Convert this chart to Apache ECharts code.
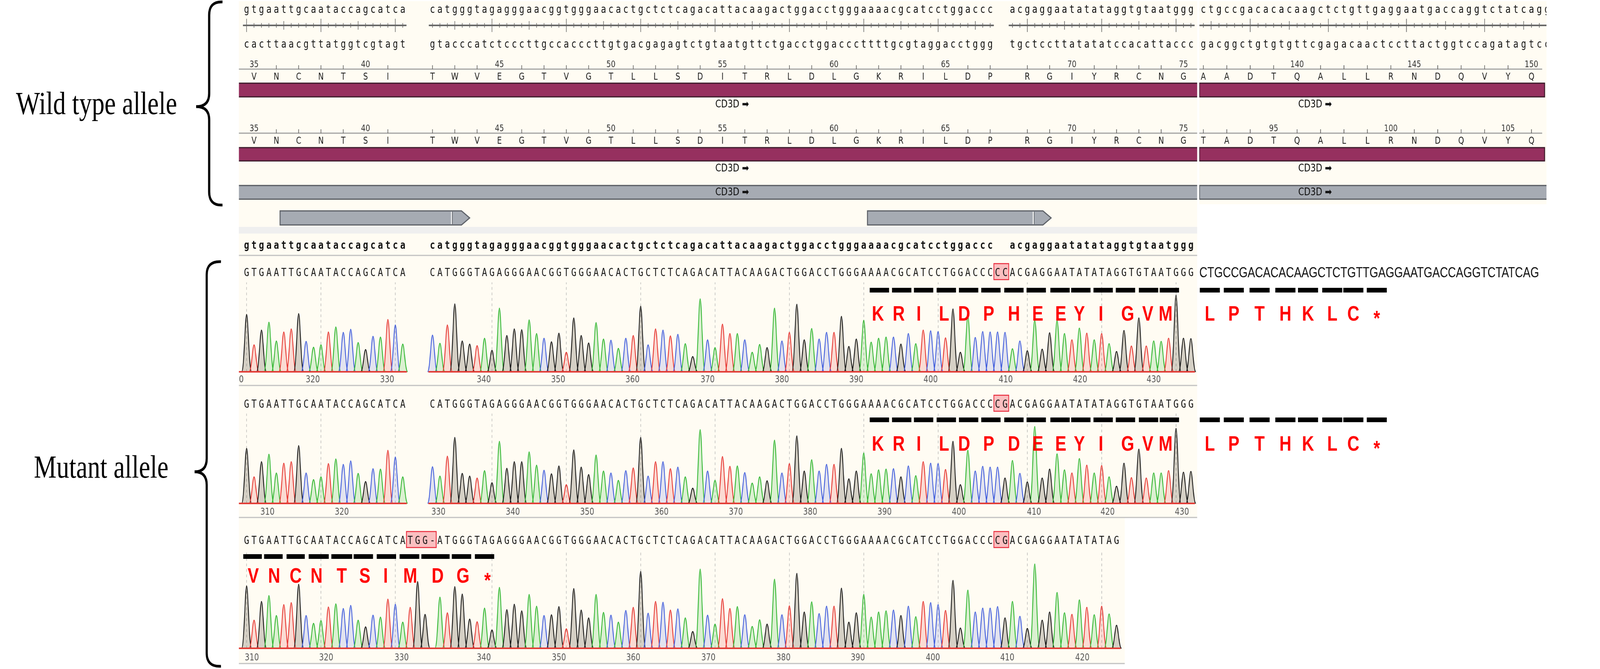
<!DOCTYPE html>
<html>
<head>
<meta charset="utf-8">
<title>CD3D wild type and mutant alleles</title>
<script src="https://cdn.jsdelivr.net/npm/echarts@6/dist/echarts.min.js"></script>
<style>
  html, body { margin: 0; padding: 0; background: #ffffff; overflow: hidden; }
  #wrap { width: 100vw; height: 100vh; overflow: hidden; position: relative; }
  #chart { width: 5171px; height: 1713px; transform-origin: 0 0; position: absolute; left: 0; top: 0; }
</style>
</head>
<body>
<div id="wrap"><div id="chart"></div></div>
<script>
// alignment: one character per column, spaces are alignment gaps
const refSeq = 'gtgaattgcaataccagcatca' + '   ' + 'catgggtagagggaacggtgggaacactgctctcagacattacaagactggacctgggaaaacgcatcctggaccc' + '  ' + 'acgaggaatatataggtgtaatggg'
const refComp = 'cacttaacgttatggtcgtagt' + '   ' + 'gtacccatctcccttgccacccttgtgacgagagtctgtaatgttctgacctggacccttttgcgtaggacctggg' + '  ' + 'tgctccttatatatccacattaccc'
const refRight = 'ctgccgacacacaagctctgttgaggaatgaccaggtctatcagg'
const compRight = 'gacggctgtgtgttcgagacaactccttactggtccagatagtcc'

const mut1 = 'GTGAATTGCAATACCAGCATCA' + '   ' + 'CATGGGTAGAGGGAACGGTGGGAACACTGCTCTCAGACATTACAAGACTGGACCTGGGAAAACGCATCCTGGACCC' + 'CC' + 'ACGAGGAATATATAGGTGTAATGGG'
const mut2 = 'GTGAATTGCAATACCAGCATCA' + '   ' + 'CATGGGTAGAGGGAACGGTGGGAACACTGCTCTCAGACATTACAAGACTGGACCTGGGAAAACGCATCCTGGACCC' + 'CG' + 'ACGAGGAATATATAGGTGTAATGGG'
const mut3 = 'GTGAATTGCAATACCAGCATCA' + 'TGG-' + 'ATGGGTAGAGGGAACGGTGGGAACACTGCTCTCAGACATTACAAGACTGGACCTGGGAAAACGCATCCTGGACCC' + 'CG' + 'ACGAGGAATATATAG'
const mutRightSeq = 'CTGCCGACACACAAGCTCTGTTGAGGAATGACCAGGTCTATCAG'

// protein tracks
const aaLeft = 'VNCNTSITWVEGTVGTLLSDITRLDLGKRILDPRGIYRCNG'
const aaLeftCols = [1, 4, 7, 10, 13, 16, 19, 25, 28, 31, 34, 37, 40, 43, 46, 49, 52, 55, 58, 61, 64, 67, 70, 73, 76, 79, 82, 85, 88, 91, 94, 97, 100, 105, 108, 111, 114, 117, 120, 123, 126]
const aaLeftStart = 35
const aaRight1 = 'AADTQALLRNDQVYQ'
const aaRight2 = 'TADTQALLRNDQVYQ'
const aaRightCols = [0, 3, 6, 9, 12, 15, 18, 21, 24, 27, 30, 33, 36, 39, 42]
const aaRight1Start = 136
const aaRight2Start = 92
const cd3dRightEnd = 43.68

// guide arrows: start, PAM split, end of body
const guideStart = [4.5, 83.5]
const guidePam = [27.55, 105.8]
const guideEnd = [28.9, 107.1]

// trace peak heights, one per base column (null = no base)
const peaks1 = [
  147, 69, 107, 127, 79, 102, 110, 149, 78, 63, 69, 102, 115, 101, 109, 75, 57, 91, 89, 134, 120, 71,
  null, null, null,
  94, 73, 120, 174, 79, 71, 67, 86, 55, 163, 93, 110, 108, 133, 98, 86, 77, 99, 50, 138, 93, 74, 126, 84, 81, 60, 86, 93, 168, 69,
  110, 107, 92, 96, 72, 39, 187, 82, 62, 122, 98, 98, 82, 50, 70, 62, 163, 79, 101, 173, 82, 111, 84, 101, 101, 142, 65, 84, 132, 76, 86, 89, 89, 71, 98, 72, 107, 105, 103, 87, 161, 50, 143, 88, 103, 102, 102, 101,
  59, 79, 54, 132, 58, 100, 131, 98, 82, 112, 99, 82, 98, 72, 52, 106, 66, 138, 66, 79, 78, 86, 196, 86, 85
]
const peaks2 = [
  141, 68, 107, 126, 78, 103, 107, 148, 78, 61, 68, 102, 114, 100, 109, 77, 56, 89, 88, 136, 119, 68,
  null, null, null,
  94, 70, 121, 169, 77, 70, 65, 84, 53, 159, 90, 107, 107, 132, 98, 85, 76, 96, 48, 137, 93, 74, 124, 83, 78, 59, 84, 91, 169, 70,
  107, 107, 89, 93, 68, 39, 189, 83, 59, 120, 95, 96, 79, 52, 68, 58, 162, 78, 102, 173, 83, 112, 83, 100, 100, 141, 63, 83, 129, 76, 86, 88, 89, 68, 96, 71, 107, 103, 102, 87, 159, 48, 136, 83, 95, 93, 93, 65,
  110, 77, 55, 197, 65, 88, 127, 86, 78, 115, 98, 78, 97, 68, 44, 103, 66, 139, 65, 78, 78, 84, 192, 80, 82
]
const peaks3 = [
  160, 72, 120, 135, 84, 112, 117, 164, 84, 64, 71, 106, 114, 102, 110, 72, 55, 85, 80, 126, 113, 67,
  105, 171, 87, null,
  131, 91, 158, 139, 75, 68, 103, 47, 156, 99, 113, 96, 138, 108, 84, 86, 107, 50, 153, 98, 78, 138, 92, 85, 67, 97, 105, 197, 90,
  120, 118, 98, 101, 78, 43, 203, 85, 62, 127, 102, 107, 86, 56, 73, 62, 177, 86, 109, 192, 93, 119, 89, 108, 108, 154, 67, 91, 138, 80, 93, 96, 98, 84, 108, 81, 120, 117, 112, 97, 174, 52, 149, 93, 103, 103, 107, 78, 120, 82, 51, 216, 72, 93, 143, 91, 87, 124, 105, 86, 108, 88, 59
]

// trace position labels and the columns they sit on
const trace1Ticks = [310, 320, 330, 340, 350, 360, 370, 380, 390, 400, 410, 420, 430]
const trace1TickCols = [-1.35, 8.9, 18.9, 31.9, 41.9, 51.9, 62, 72, 82, 92, 102.1, 112.1, 122]
const trace2Ticks = [310, 320, 330, 340, 350, 360, 370, 380, 390, 400, 410, 420, 430]
const trace2TickCols = [2.8, 12.8, 25.8, 35.8, 45.8, 55.8, 65.8, 75.8, 85.8, 95.8, 105.9, 115.8, 125.8]
const trace3Ticks = [310, 320, 330, 340, 350, 360, 370, 380, 390, 400, 410, 420]
const trace3TickCols = [0.7, 10.7, 20.85, 31.9, 42, 52, 62.1, 72.2, 82.2, 92.3, 102.3, 112.4]

// highlighted indels
const boxes1 = [[101, 102]]
const boxes2 = [[101, 102]]
const boxes3 = [[22, 25], [101, 102]]

// translated mutant reading frames
const mut1Aa = 'KRILDPHEEYIGVM'
const mut2Aa = 'KRILDPDEEYIGVM'
const mutAaCols = [84.9, 87.7, 90.4, 93.8, 96.5, 99.8, 103.2, 106.4, 109.5, 112, 114.9, 118.5, 121.2, 123.6]
const mutDashCols = [85.1, 88.1, 91.05, 94.1, 97.1, 100.1, 103.2, 106.2, 109.4, 112.2, 115.2, 118.2, 121.3, 124.1]
const mutRightAa = 'LPTHKLC*'
const mutRightCols = [0.83, 3.9, 7.2, 10.5, 13.4, 16.5, 19.2, 22.2]
const mut3Aa = 'VNCNTSIMDG*'
const mut3AaCols = [0.9, 3.7, 6.6, 9.4, 12.8, 15.9, 18.7, 22.0, 25.7, 29.1, 32.4]
const mut3DashCols = [0.8, 3.6, 6.6, 9.7, 12.8, 15.7, 18.8, 21.9, 25.4, 28.9, 32.0]
const mut3DashWidths = [2.5, 2.5, 2.45, 2.7, 2.8, 2.6, 2.6, 2.65, 3.8, 2.6, 2.6]

// ---------------------------------------------------------------
const CREAM = '#fffcf3'
const BASE_COLOR = {A: '#2cb52c', C: '#3a58dc', G: '#111111', T: '#e6312c'}
const BASE_FILL = {A: 'rgba(44,181,44,0.17)', C: 'rgba(58,88,220,0.15)', G: 'rgba(80,70,50,0.24)', T: 'rgba(230,49,44,0.16)'}

const SEQ = {fontFamily: 'DejaVu Sans Mono', fontSize: 28, fill: '#111'}
const SEQ_BOLD = {fontFamily: 'DejaVu Sans Mono', fontSize: 28, fontWeight: 'bold', fill: '#111'}
const AA = {fontFamily: 'DejaVu Sans', fontSize: 24, fill: '#1b1b1b'}
const NUM = {fontFamily: 'DejaVu Sans', fontSize: 23, fill: '#333'}
const FEAT = {fontFamily: 'DejaVu Sans', fontSize: 27, fill: '#111'}
const TRACE_NUM = {fontFamily: 'DejaVu Sans', fontSize: 24, fill: '#555'}
const RED = {fontFamily: 'Liberation Sans', fontSize: 54, fontWeight: 'bold', fill: '#ff0000'}
const PLAIN = {fontFamily: 'Liberation Sans', fontSize: 36, fill: '#111'}

function custom(grid, data, render, z) {
  return {
    type: 'custom', coordinateSystem: 'cartesian2d',
    xAxisIndex: grid, yAxisIndex: grid,
    clip: true, silent: true, z: z,
    data: data, renderItem: render
  }
}

// items: [x, y, text]
function textRow(grid, items, style, z, align) {
  return custom(grid, items.map(d => [d[0], d[1]]), function (params, api) {
    const d = items[params.dataIndex]
    const p = api.coord([d[0], d[1]])
    return {
      type: 'text', x: p[0], y: p[1],
      style: Object.assign({text: d[2], align: align || 'center', verticalAlign: 'middle'}, style)
    }
  }, z || 6)
}

function seqChars(seq, y) {
  const out = []
  for (let i = 0; i < seq.length; i++) {
    if (seq[i] !== ' ') out.push([i, y, seq[i]])
  }
  return out
}

function runs(seq, pad) {
  const out = []
  let start = null
  for (let i = 0; i <= seq.length; i++) {
    const gap = i === seq.length || seq[i] === ' '
    if (!gap && start === null) start = i
    if (gap && start !== null) {
      out.push([start - pad, i - 1 + pad])
      start = null
    }
  }
  return out
}

function refTickCols(seq, offset, step) {
  const out = []
  let r = offset
  for (let i = 0; i < seq.length; i++) {
    if (seq[i] === ' ') continue
    if (r % step === 0) out.push(i)
    r++
  }
  return out
}

// lines between (x0,y0) and (x1,y1), in axis units
function lineSeries(grid, segs, stroke, width, z, dash) {
  return custom(grid, segs, function (params, api) {
    const a = api.coord([api.value(0), api.value(1)])
    const b = api.coord([api.value(2), api.value(3)])
    return {
      type: 'line', shape: {x1: a[0], y1: a[1], x2: b[0], y2: b[1]},
      style: {stroke: stroke, lineWidth: width, lineDash: dash || null}
    }
  }, z)
}

function rectSeries(grid, rects, fill, stroke, width, z) {
  return custom(grid, rects, function (params, api) {
    const a = api.coord([api.value(0), api.value(1)])
    const b = api.coord([api.value(2), api.value(3)])
    return {
      type: 'rect',
      shape: {x: a[0], y: a[1], width: b[0] - a[0], height: b[1] - a[1]},
      style: {fill: fill, stroke: stroke, lineWidth: width}
    }
  }, z)
}

function rulerSeries(grid, seq, offset, y) {
  const ticks = []
  let r = offset
  for (let i = 0; i < seq.length; i++) {
    if (seq[i] === ' ') continue
    const len = r % 10 === 0 ? 17 : (r % 5 === 0 ? 11 : 6)
    ticks.push([i, y - len, i, y + len])
    r++
  }
  const line = runs(seq, 0.5).map(s => [s[0], y, s[1], y])
  return [lineSeries(grid, line, '#686868', 4, 4), lineSeries(grid, ticks, '#686868', 2, 4)]
}

function aaTrack(grid, letters, cols, start, yNum, yAxis, yAa) {
  const labels = [], ticks = [], aa = []
  for (let i = 0; i < letters.length; i++) {
    const n = start + i
    if (n % 5 === 0) labels.push([cols[i], yNum, String(n)])
    else ticks.push([cols[i], yAxis - 10, cols[i], yAxis])
    aa.push([cols[i], yAa, letters[i]])
  }
  return [textRow(grid, labels, NUM), lineSeries(grid, ticks, '#555', 2, 4), textRow(grid, aa, AA)]
}

function peakPath(api, c, h, close) {
  const w = 0.66
  const a = api.coord([c - w, 0]), t = api.coord([c, h]), b = api.coord([c + w, 0])
  const l = t[0] - a[0], r = b[0] - t[0]
  return 'M' + a[0] + ',' + a[1] +
    'C' + (a[0] + l * 0.5) + ',' + a[1] + ' ' + (t[0] - l * 0.3) + ',' + t[1] + ' ' + t[0] + ',' + t[1] +
    'C' + (t[0] + r * 0.3) + ',' + t[1] + ' ' + (b[0] - r * 0.5) + ',' + b[1] + ' ' + b[0] + ',' + b[1] +
    (close ? 'Z' : '')
}

function traceSeries(grid, seq, heights, top, ticks, tickCols, labY) {
  const items = []
  for (let i = 0; i < seq.length; i++) {
    if ('ACGT'.indexOf(seq[i]) >= 0 && heights[i] != null) items.push([i, heights[i], seq[i]])
  }
  const data = items.map(d => [d[0], d[1]])
  const fills = custom(grid, data, function (params, api) {
    const d = items[params.dataIndex]
    return {type: 'path', shape: {pathData: peakPath(api, d[0], d[1], true)}, style: {fill: BASE_FILL[d[2]], stroke: null}}
  }, 2)
  const strokes = custom(grid, data, function (params, api) {
    const d = items[params.dataIndex]
    return {type: 'path', shape: {pathData: peakPath(api, d[0], d[1], false)}, style: {fill: null, stroke: BASE_COLOR[d[2]], lineWidth: 2.6}}
  }, 3)
  const grids = refTickCols(refSeq, 0, 10).map(c => [c, 0, c, top - 3])
  const baseRuns = runs(seq, 0.55).map(s => [s[0] <= 0 ? -1.1 : s[0], 0, s[1], 0])
  const labels = ticks.map((t, i) => [tickCols[i], labY, String(t)])
  return [
    lineSeries(grid, grids, '#a9a9a9', 1.5, 1, [7, 7]),
    fills, strokes,
    lineSeries(grid, baseRuns, '#e23d37', 4, 4),
    textRow(grid, labels, TRACE_NUM)
  ]
}

function guideSeries(grid) {
  const data = guideStart.map((s, i) => [s, 558, guideEnd[i], guidePam[i]])
  return custom(grid, data, function (params, api) {
    const a = api.coord([api.value(0), 540])
    const e = api.coord([api.value(2), 576])
    const tip = api.coord([api.value(2) + 1.1, 558])
    const pam = api.coord([api.value(3), 540])
    return {
      type: 'group', children: [
        {type: 'polygon', shape: {points: [[a[0], a[1]], [e[0], a[1]], [tip[0], tip[1]], [e[0], e[1]], [a[0], e[1]]]},
          style: {fill: '#a6abb3', stroke: '#5b5f66', lineWidth: 3}},
        {type: 'line', shape: {x1: pam[0], y1: a[1] + 2, x2: pam[0], y2: e[1] - 2}, style: {stroke: '#ffffff', lineWidth: 3}},
        {type: 'line', shape: {x1: pam[0] + 3, y1: a[1] + 2, x2: pam[0] + 3, y2: e[1] - 2}, style: {stroke: '#4a4d52', lineWidth: 1.5}}
      ]
    }
  }, 4)
}

function redLetters(grid, letters, cols, y) {
  const items = []
  for (let i = 0; i < letters.length; i++) {
    items.push([cols[i], letters[i] === '*' ? y + 12 : y, letters[i]])
  }
  return textRow(grid, items, RED, 8)
}

function dashRects(cols, widths, y) {
  return cols.map((c, i) => {
    const w = widths ? widths[i] : 2.6
    return [c - w / 2, y - 6, c + w / 2, y + 6]
  })
}

function boxRects(boxes, y) {
  return boxes.map(b => [b[0] - 0.5, y - 25, b[1] + 0.5, y + 16])
}

// ---------------------------------------------------------------
const series = []

// top panel, left part
series.push(textRow(0, seqChars(refSeq, 26), SEQ))
series.push(...rulerSeries(0, refSeq, 0, 65))
series.push(textRow(0, seqChars(refComp, 115), SEQ))
series.push(...aaTrack(0, aaLeft, aaLeftCols, aaLeftStart, 166, 177, 198))
series.push(rectSeries(0, [[-1.6, 213, 128.5, 248]], '#96305f', '#3a1a2b', 3, 3))
series.push(textRow(0, [[65.3, 268, 'CD3D ➡']], FEAT))
series.push(...aaTrack(0, aaLeft, aaLeftCols, aaLeftStart, 330, 341, 362))
series.push(rectSeries(0, [[-1.6, 378, 128.5, 412]], '#96305f', '#3a1a2b', 3, 3))
series.push(textRow(0, [[65.3, 432, 'CD3D ➡']], FEAT))
series.push(rectSeries(0, [[-1.6, 475, 128.5, 510]], '#a6abb3', '#55595f', 3, 3))
series.push(textRow(0, [[65.3, 493, 'CD3D ➡']], FEAT))

// top panel, right part
series.push(textRow(1, seqChars(refRight, 26), SEQ))
series.push(...rulerSeries(1, refRight, 4, 65))
series.push(textRow(1, seqChars(compRight, 115), SEQ))
series.push(...aaTrack(1, aaRight1, aaRightCols, aaRight1Start, 166, 177, 198))
series.push(rectSeries(1, [[-0.5, 213, cd3dRightEnd, 248]], '#96305f', '#3a1a2b', 3, 3))
series.push(textRow(1, [[14.3, 268, 'CD3D ➡']], FEAT))
series.push(...aaTrack(1, aaRight2, aaRightCols, aaRight2Start, 330, 341, 362))
series.push(rectSeries(1, [[-0.5, 378, cd3dRightEnd, 412]], '#96305f', '#3a1a2b', 3, 3))
series.push(textRow(1, [[14.3, 432, 'CD3D ➡']], FEAT))
series.push(rectSeries(1, [[-0.5, 475, 45, 510]], '#a6abb3', '#55595f', 3, 3))
series.push(textRow(1, [[14.3, 493, 'CD3D ➡']], FEAT))

// guides and reference
series.push(guideSeries(0))
series.push(textRow(0, seqChars(refSeq, 630), SEQ_BOLD))

// mutant reads: base calls, indel boxes, frames
const rowY = [700, 1037, 1386]
const dashY = [743, 1075, 1425]
const aaY = [806, 1139, 1477]
series.push(rectSeries(0, boxRects(boxes1, rowY[0]), 'rgba(248,150,158,0.6)', '#e8283a', 2.5, 5))
series.push(rectSeries(0, boxRects(boxes2, rowY[1]), 'rgba(248,150,158,0.6)', '#e8283a', 2.5, 5))
series.push(rectSeries(0, boxRects(boxes3, rowY[2]), 'rgba(248,150,158,0.6)', '#e8283a', 2.5, 5))
series.push(textRow(0, seqChars(mut1, rowY[0]), SEQ))
series.push(textRow(0, seqChars(mut2, rowY[1]), SEQ))
series.push(textRow(0, seqChars(mut3, rowY[2]), SEQ))

series.push(rectSeries(0, dashRects(mutDashCols, null, dashY[0]), '#000', null, 0, 7))
series.push(rectSeries(0, dashRects(mutDashCols, null, dashY[1]), '#000', null, 0, 7))
series.push(rectSeries(0, dashRects(mut3DashCols, mut3DashWidths, dashY[2]), '#000', null, 0, 7))
series.push(redLetters(0, mut1Aa, mutAaCols, aaY[0]))
series.push(redLetters(0, mut2Aa, mutAaCols, aaY[1]))
series.push(redLetters(0, mut3Aa, mut3AaCols, aaY[2]))

// continuation to the right of the traces
series.push(textRow(1, [[-0.515, rowY[0], mutRightSeq]], PLAIN, 6, 'left'))
const rightDashW = mutRightCols.map(() => 2.57)
series.push(rectSeries(1, dashRects(mutRightCols, rightDashW, dashY[0]), '#000', null, 0, 7))
series.push(rectSeries(1, dashRects(mutRightCols, rightDashW, dashY[1]), '#000', null, 0, 7))
series.push(redLetters(1, mutRightAa, mutRightCols, aaY[0]))
series.push(redLetters(1, mutRightAa, mutRightCols, aaY[1]))

// traces
series.push(...traceSeries(2, mut1, peaks1, 232, trace1Ticks, trace1TickCols, -21))
series.push(...traceSeries(3, mut2, peaks2, 233, trace2Ticks, trace2TickCols, -23))
series.push(...traceSeries(4, mut3, peaks3, 255, trace3Ticks, trace3TickCols, -25))

// ---------------------------------------------------------------
function hline(y, x0, x1, color, w) {
  return {type: 'line', z: -5, silent: true, shape: {x1: x0, y1: y, x2: x1, y2: y}, style: {stroke: color, lineWidth: w}}
}

// curly brace made of quadratic curves and straight runs
function brace(xv, top, bottom, mid, tip, hook) {
  const st = {stroke: '#000', lineWidth: 7, fill: null}
  const r = 34
  return {
    type: 'group', silent: true, z: 10,
    children: [
      {type: 'bezierCurve', shape: {x1: hook, y1: top, cpx1: xv, cpy1: top - 2, x2: xv, y2: top + r}, style: st},
      {type: 'line', shape: {x1: xv, y1: top + r, x2: xv, y2: mid - r}, style: st},
      {type: 'bezierCurve', shape: {x1: xv, y1: mid - r, cpx1: xv, cpy1: mid, x2: tip, y2: mid}, style: st},
      {type: 'bezierCurve', shape: {x1: tip, y1: mid, cpx1: xv, cpy1: mid, x2: xv, y2: mid + r}, style: st},
      {type: 'line', shape: {x1: xv, y1: mid + r, x2: xv, y2: bottom - r}, style: st},
      {type: 'bezierCurve', shape: {x1: xv, y1: bottom - r, cpx1: xv, cpy1: bottom + 2, x2: hook, y2: bottom}, style: st}
    ]
  }
}

const graphics = [
  {type: 'rect', z: -10, silent: true, shape: {x: 772, y: 3, width: 3097, height: 1322}, style: {fill: CREAM}},
  {type: 'rect', z: -10, silent: true, shape: {x: 772, y: 1325, width: 2863, height: 374}, style: {fill: CREAM}},
  {type: 'rect', z: -10, silent: true, shape: {x: 3876, y: 3, width: 1122, height: 520}, style: {fill: CREAM}},
  {type: 'rect', z: -9, silent: true, shape: {x: 772, y: 581, width: 3097, height: 17}, style: {fill: '#efefef'}},
  hline(177, 772, 3869, '#a3a3a3', 3),
  hline(341, 772, 3869, '#a3a3a3', 3),
  hline(177, 3876, 4984, '#a3a3a3', 3),
  hline(341, 3876, 4984, '#a3a3a3', 3),
  hline(654, 772, 3869, '#c2c2c2', 3),
  hline(987, 772, 3869, '#c2c2c2', 3),
  hline(1325, 772, 3869, '#c2c2c2', 3),
  hline(1699, 772, 3635, '#c2c2c2', 3),
  brace(676, 5, 525, 273, 634, 719),
  brace(668, 670, 1706, 1208, 629, 714),
  {type: 'text', z: 10, silent: true, x: 312, y: 270,
    style: {text: 'Wild type allele', fontFamily: 'Liberation Serif', fontSize: 82, fill: '#000', align: 'center', verticalAlign: 'middle'}},
  {type: 'text', z: 10, silent: true, x: 327, y: 1201,
    style: {text: 'Mutant allele', fontFamily: 'Liberation Serif', fontSize: 82, fill: '#000', align: 'center', verticalAlign: 'middle'}}
]

const pageY = {type: 'value', min: 0, max: 1713, inverse: true, show: false}
const option = {
  backgroundColor: '#ffffff',
  animation: false,
  grid: [
    {left: 772, top: 0, width: 3097, height: 1713},
    {left: 3876, top: 0, width: 1122, height: 1713},
    {left: 772, top: 720, width: 3097, height: 267},
    {left: 772, top: 1056, width: 3097, height: 268},
    {left: 772, top: 1405, width: 2863, height: 290}
  ],
  xAxis: [
    {gridIndex: 0, type: 'value', min: -1.04, max: 127.84, show: false},
    {gridIndex: 1, type: 'value', min: -0.515, max: 43.92, show: false},
    {gridIndex: 2, type: 'value', min: -1.04, max: 127.84, show: false},
    {gridIndex: 3, type: 'value', min: -1.04, max: 127.84, show: false},
    {gridIndex: 4, type: 'value', min: -1.04, max: 118.1, show: false}
  ],
  yAxis: [
    Object.assign({gridIndex: 0}, pageY),
    Object.assign({gridIndex: 1}, pageY),
    {gridIndex: 2, type: 'value', min: -35, max: 232, show: false},
    {gridIndex: 3, type: 'value', min: -35, max: 233, show: false},
    {gridIndex: 4, type: 'value', min: -35, max: 255, show: false}
  ],
  graphic: {elements: graphics},
  series: series
}

// the figure is laid out in 5171 x 1713 units; stretch it over the whole window
const dom = document.getElementById('chart')
const sx = window.innerWidth / 5171
const sy = window.innerHeight / 1713
dom.style.transform = 'scale(' + sx + ',' + sy + ')'
const chart = echarts.init(dom, null, {devicePixelRatio: (window.devicePixelRatio || 1) * Math.max(sx, sy)})
chart.setOption(option)
</script>
</body>
</html>
